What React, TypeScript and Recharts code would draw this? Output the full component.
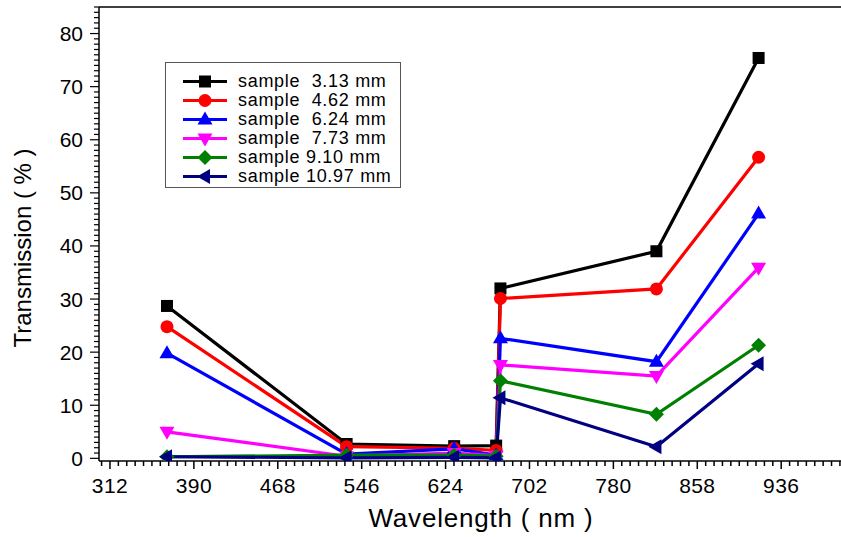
import React from "react";
import { LineChart, Line, XAxis, YAxis, ReferenceLine } from "recharts";

const wavelengths = [365, 532, 632, 671, 675, 820, 915];

const s313 = [28.7, 2.7, 2.3, 2.4, 32.0, 39.0, 75.4];
const s462 = [24.8, 2.2, 1.9, 1.5, 30.1, 31.9, 56.7];
const s624 = [19.8, 0.8, 1.8, 0.6, 22.6, 18.2, 46.1];
const s773 = [5.0, 0.4, 1.0, 0.5, 17.6, 15.5, 35.9];
const s910 = [0.3, 0.6, 0.6, 0.4, 14.6, 8.3, 21.3];
const s1097 = [0.3, 0.1, 0.2, 0.1, 11.4, 2.2, 17.8];

const xMajorTicks = [312, 390, 468, 546, 624, 702, 780, 858, 936];
const yMajorTicks = [0, 10, 20, 30, 40, 50, 60, 70, 80];

const X_DOMAIN: [number, number] = [301.8, 991.6];
const Y_DOMAIN: [number, number] = [-0.5, 85];

const series = [
  { key: "s313", name: "sample  3.13 mm", color: "#000000", shape: "square", values: s313 },
  { key: "s462", name: "sample  4.62 mm", color: "#ff0000", shape: "circle", values: s462 },
  { key: "s624", name: "sample  6.24 mm", color: "#0000ff", shape: "up", values: s624 },
  { key: "s773", name: "sample  7.73 mm", color: "#ff00ff", shape: "down", values: s773 },
  { key: "s910", name: "sample 9.10 mm", color: "#008000", shape: "diamond", values: s910 },
  { key: "s1097", name: "sample 10.97 mm", color: "#000080", shape: "left", values: s1097 },
];

const data = wavelengths.map((wl, i) => {
  const row: any = { wl };
  series.forEach((s) => (row[s.key] = s.values[i]));
  return row;
});

// tick positions (majors + minors)
const xTicks: number[] = [];
for (let k = -2; k < 100; k++) {
  const v = Math.round((312 + k * 7.8) * 10) / 10;
  if (v >= X_DOMAIN[0] && v <= X_DOMAIN[1]) xTicks.push(v);
}
const yTicks: number[] = [];
for (let v = 0; v <= 85; v++) yTicks.push(v);

function marker(shape: string, color: string, cx: number, cy: number, key?: string) {
  switch (shape) {
    case "square":
      return <rect key={key} x={cx - 6} y={cy - 6} width={12} height={12} fill={color} />;
    case "circle":
      return <circle key={key} cx={cx} cy={cy} r={6.5} fill={color} />;
    case "up":
      return <polygon key={key} points={`${cx},${cy - 8} ${cx + 7.5},${cy + 5} ${cx - 7.5},${cy + 5}`} fill={color} />;
    case "down":
      return <polygon key={key} points={`${cx},${cy + 8} ${cx + 7.5},${cy - 5} ${cx - 7.5},${cy - 5}`} fill={color} />;
    case "diamond":
      return <polygon key={key} points={`${cx},${cy - 7.5} ${cx + 7.5},${cy} ${cx},${cy + 7.5} ${cx - 7.5},${cy}`} fill={color} />;
    default:
      return <polygon key={key} points={`${cx - 8},${cy} ${cx + 5},${cy - 7.5} ${cx + 5},${cy + 7.5}`} fill={color} />;
  }
}

const XTick = (props: any) => {
  const { x, y, payload } = props;
  const major = xMajorTicks.includes(payload.value);
  return (
    <g>
      <line x1={x} x2={x} y1={y} y2={y + (major ? 8 : 5)} stroke="#000" strokeWidth={1.5} />
      {major && (
        <text x={x} y={y + 32} textAnchor="middle" fontSize={21} letterSpacing={0.4} fill="#000">
          {payload.value}
        </text>
      )}
    </g>
  );
};

const YTick = (props: any) => {
  const { x, y, payload } = props;
  const major = yMajorTicks.includes(payload.value);
  return (
    <g>
      <line x1={x} x2={x - (major ? 9 : 5)} y1={y} y2={y} stroke="#000" strokeWidth={1.2} />
      {major && (
        <text x={x - 16} y={y + 7.5} textAnchor="end" fontSize={21} fill="#000">
          {payload.value}
        </text>
      )}
    </g>
  );
};

const LegendBox = () => (
  <div
    style={{
      position: "absolute",
      left: 165,
      top: 62,
      border: "1.5px solid #555",
      background: "#fff",
      width: 236,
      height: 126,
      padding: "9px 0 0 0",
      boxSizing: "border-box",
    }}
  >
    {series.map((s) => (
      <div key={s.key} style={{ display: "flex", alignItems: "center", height: 19 }}>
        <svg width={72} height={19}>
          <line x1={17} x2={61} y1={9.5} y2={9.5} stroke={s.color} strokeWidth={3} />
          {marker(s.shape, s.color, 39, 9.5)}
        </svg>
        <span style={{ fontSize: 18, whiteSpace: "pre", letterSpacing: 0.7, color: "#000", lineHeight: "19px" }}>
          {s.name}
        </span>
      </div>
    ))}
  </div>
);

export default function App() {
  return (
    <div
      style={{
        position: "absolute",
        left: 0,
        top: 0,
        width: 841,
        height: 537,
        background: "#fff",
        fontFamily: "'Liberation Sans', Arial, sans-serif",
        overflow: "hidden",
      }}
    >
      <LineChart width={841} height={537} data={data} margin={{ top: 7, right: 0, left: 0, bottom: 0 }}>
        <XAxis
          dataKey="wl"
          type="number"
          domain={X_DOMAIN}
          ticks={xTicks}
          interval={0}
          tick={<XTick />}
          tickLine={false}
          tickSize={0}
          tickMargin={0}
          height={76}
          axisLine={{ stroke: "#000", strokeWidth: 1.5 }}
          allowDataOverflow
          label={() => (
            <text x={481} y={527} textAnchor="middle" fontSize={26} letterSpacing={0.8} fill="#000">
              Wavelength ( nm )
            </text>
          )}
        />
        <YAxis
          type="number"
          domain={Y_DOMAIN}
          ticks={yTicks}
          interval={0}
          tick={<YTick />}
          tickLine={false}
          tickSize={0}
          tickMargin={0}
          width={99}
          axisLine={{ stroke: "#000", strokeWidth: 1.5 }}
          allowDataOverflow
          label={() => (
            <text
              x={22}
              y={248}
              transform="rotate(-90 22 248)"
              textAnchor="middle"
              dominantBaseline="central"
              fontSize={24}
              fill="#000"
            >
              Transmission ( % )
            </text>
          )}
        />
        <ReferenceLine y={85} stroke="#000" strokeWidth={1.5} />
        {series.map((s) => (
          <Line
            key={s.key}
            dataKey={s.key}
            name={s.name}
            type="linear"
            stroke={s.color}
            strokeWidth={3.2}
            isAnimationActive={false}
            dot={(p: any) => marker(s.shape, s.color, p.cx, p.cy, `${s.key}-${p.index}`)}
            activeDot={false}
          />
        ))}
      </LineChart>
      <LegendBox />
    </div>
  );
}
